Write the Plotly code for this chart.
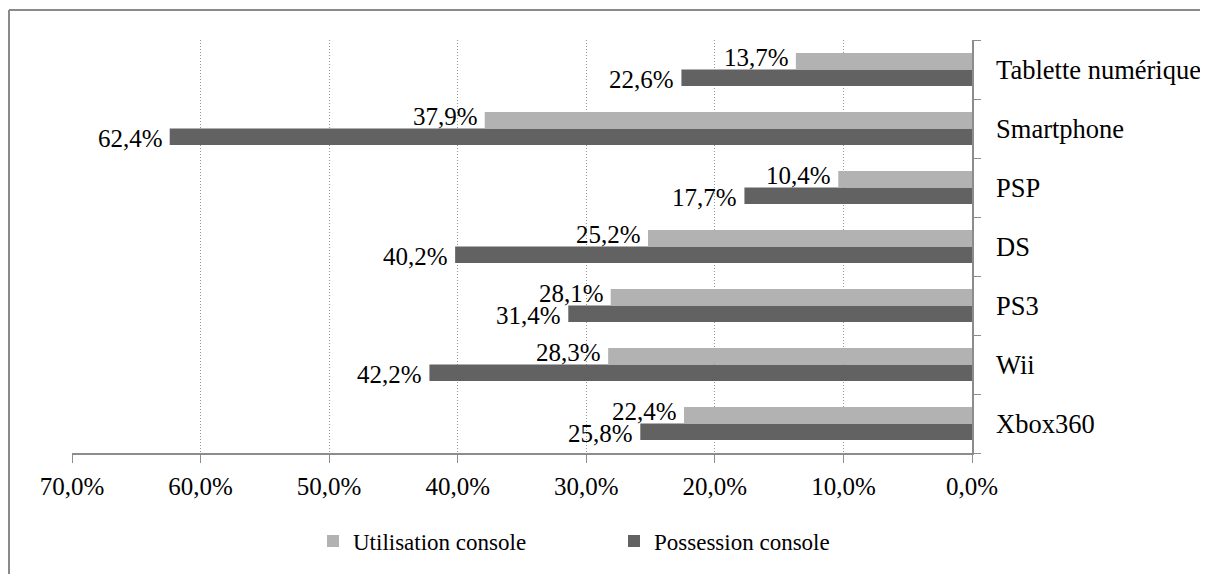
import plotly.graph_objects as go

categories = ["Xbox360", "Wii", "PS3", "DS", "PSP", "Smartphone", "Tablette numérique"]
utilisation = [22.4, 28.3, 28.1, 25.2, 10.4, 37.9, 13.7]
possession = [25.8, 42.2, 31.4, 40.2, 17.7, 62.4, 22.6]
x_ticks = [70, 60, 50, 40, 30, 20, 10, 0]
x_tick_labels = ["70,0%", "60,0%", "50,0%", "40,0%", "30,0%", "20,0%", "10,0%", "0,0%"]

FONT = "Liberation Serif"
LIGHT = "#b2b2b2"
DARK = "#626262"
AXIS = "#8c8c8c"

def fmt(v):
    return f"{v:.1f}".replace(".", ",") + "%"

fig = go.Figure()
fig.add_trace(go.Bar(
    y=categories, x=possession, orientation="h", name="Possession console",
    marker=dict(color=DARK, line=dict(width=0)), legendrank=2,
))
fig.add_trace(go.Bar(
    y=categories, x=utilisation, orientation="h", name="Utilisation console",
    marker=dict(color=LIGHT, line=dict(width=0)), legendrank=1,
))

# value labels, placed just beyond the end of each bar
for cat, u, p in zip(categories, utilisation, possession):
    fig.add_annotation(x=u, y=cat, xref="x", yref="y", text=fmt(u), showarrow=False,
                       xanchor="right", yanchor="middle", xshift=-5, yshift=12,
                       font=dict(family=FONT, size=25, color="#000"))
    fig.add_annotation(x=p, y=cat, xref="x", yref="y", text=fmt(p), showarrow=False,
                       xanchor="right", yanchor="middle", xshift=-5, yshift=-10,
                       font=dict(family=FONT, size=25, color="#000"))

PL, PR, PT, PB = 64, 964, 32, 445
W, H = 1200, 566

fig.update_layout(
    width=W, height=H,
    margin=dict(l=PL, r=W - PR, t=PT, b=H - PB, autoexpand=False),
    paper_bgcolor="white", plot_bgcolor="white",
    barmode="group", bargap=0.44, bargroupgap=0,
    font=dict(family=FONT, size=25, color="#000"),
    showlegend=True,
    legend=dict(orientation="h", x=(305 - PL) / (PR - PL), xanchor="left",
                y=(PB - 533) / (PB - PT), yanchor="middle",
                font=dict(family=FONT, size=23, color="#000"), itemwidth=30,
                entrywidth=256, traceorder="normal", bgcolor="rgba(0,0,0,0)"),
)
fig.update_xaxes(
    range=[70, 0], tickvals=x_ticks, ticktext=x_tick_labels,
    showgrid=True, gridcolor="#969696", griddash="1px,2px", gridwidth=1,
    showline=True, linecolor=AXIS, linewidth=1.5,
    ticks="outside", ticklen=8, tickcolor=AXIS, ticklabelstandoff=2,
    zeroline=False, tickfont=dict(family=FONT, size=25, color="#000"),
    fixedrange=True, automargin=False,
)
fig.update_yaxes(
    side="right", type="category",
    showline=True, linecolor=AXIS, linewidth=1.5,
    ticks="outside", ticklen=7, tickcolor=AXIS, tickson="boundaries",
    ticklabelstandoff=17,
    showgrid=False, tickfont=dict(family=FONT, size=26.5, color="#000"),
    fixedrange=True, automargin=False,
)
# outer chart border: only its top and left edges fall inside the picture
bx0 = (1 - PL) / (PR - PL)
bx1 = (W + 20 - PL) / (PR - PL)
by0 = (PB - H - 20) / (PB - PT)
by1 = (PB - 2) / (PB - PT)
fig.add_shape(type="line", xref="paper", yref="paper", x0=bx0, x1=bx1, y0=by1, y1=by1,
              line=dict(color="#8a8a8a", width=2), layer="below")
fig.add_shape(type="line", xref="paper", yref="paper", x0=bx0, x1=bx0, y0=by0, y1=by1,
              line=dict(color="#8a8a8a", width=2), layer="below")

fig.write_html("out.html", post_script="document.body.style.overflow='hidden';")
